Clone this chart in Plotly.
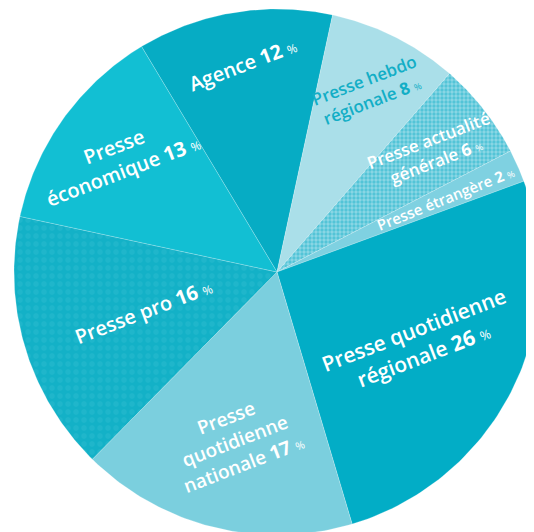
import numpy as np
from plotly import graph_objects as go

# slices, clockwise from the Agence / économique boundary
labels = [
    "Agence",
    "Presse hebdo<br>régionale",
    "Presse actualité<br>générale",
    "Presse étrangère",
    "Presse quotidienne<br>régionale",
    "Presse<br>quotidienne<br>nationale",
    "Presse pro",
    "Presse<br>économique",
]
values = [12, 8, 6, 2, 26, 17, 16, 13]

colors = ["#06acc4", "#aadfe9", "#8dd7e5", "#7fd1e1", "#02adc6", "#7bcfde", "#13b1c7", "#12bfd3"]
patterns = [None, None, ("#8dd7e5", "#19b2c9", 4, 0.55), None, None, None, ("#13b1c7", "#2cbbd0", 8, 0.35), None]
text_colors = ["white", "#12aec6", "white", "white", "white", "white", "white", "white"]
font_sizes = [20, 17, 17, 15, 21, 19, 20, 20]
label_radius = [0.80, 0.77, 0.75, 0.70, 0.60, 0.66, 0.53, 0.74]
start_angle = 121.0  # degrees, counter-clockwise from east

fig = go.Figure()

total = sum(values)
angle = start_angle
mids = []
for i, v in enumerate(values):
    span = 360.0 * v / total
    a0, a1 = angle, angle - span
    t = np.radians(np.linspace(a0, a1, 80))
    xs = np.concatenate([[0], np.cos(t), [0]])
    ys = np.concatenate([[0], np.sin(t), [0]])
    kw = dict(fillcolor=colors[i])
    if patterns[i]:
        bg, fg, size, sol = patterns[i]
        kw["fillpattern"] = dict(shape=".", bgcolor=bg, fgcolor=fg, size=size, solidity=sol)
    fig.add_trace(
        go.Scatter(
            x=xs,
            y=ys,
            mode="lines",
            fill="toself",
            line=dict(color="rgba(255,255,255,0.35)", width=0.6),
            hoverinfo="skip",
            showlegend=False,
            **kw,
        )
    )
    mids.append((a0 + a1) / 2)
    angle = a1

# rotated labels
for i, lab in enumerate(labels):
    r = label_radius[i]
    m = np.radians(mids[i])
    pct_size = max(9, font_sizes[i] - 8)
    fig.add_annotation(
        x=r * np.cos(m),
        y=r * np.sin(m),
        text=f"{lab} <b>{values[i]}</b> <span style='font-size:{pct_size}px;font-weight:400'>%</span>",
        showarrow=False,
        textangle=-21 if i != 3 else -22,
        align="center",
        font=dict(family="Open Sans", size=font_sizes[i], color=text_colors[i], weight=600),
    )

# axes in units of the radius; the page body adds an 8 px offset,
# so the centre sits at (269, 264) inside the figure, radius 263 px
R = 263.0
W, H = 526, 524
cx, cy = 269, 264
fig.update_xaxes(range=[-cx / R, (W - cx) / R], visible=False, fixedrange=True)
fig.update_yaxes(range=[(cy - H) / R, cy / R], visible=False, fixedrange=True)
fig.update_layout(
    width=W,
    height=H,
    margin=dict(l=0, r=0, t=0, b=0),
    plot_bgcolor="white",
    paper_bgcolor="white",
    showlegend=False,
)

fig.write_html("out.html")
